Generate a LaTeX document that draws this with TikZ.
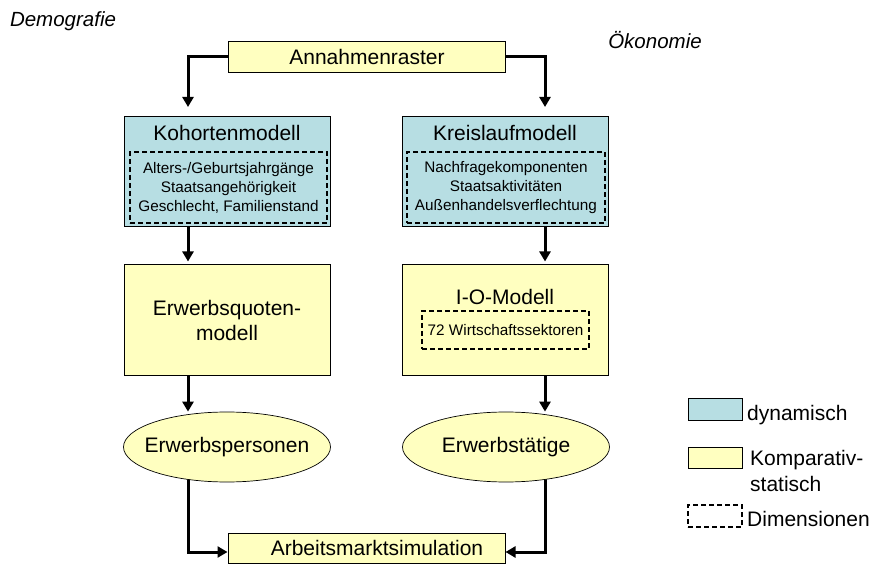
\documentclass[tikz,border=0pt]{standalone}
\usepackage{fontspec}
\setmainfont{Liberation Sans}
\usetikzlibrary{arrows.meta,shapes.geometric,backgrounds}
\definecolor{dyncol}{RGB}{183,222,227}
\definecolor{statcol}{RGB}{255,255,192}
\tikzset{
  big/.style={font=\fontsize{21}{25}\selectfont},
  small/.style={font=\fontsize{15.3}{19}\selectfont},
  head/.style={font=\fontsize{20.5}{24}\selectfont\itshape},
  dynbox/.style={draw,line width=1pt,fill=dyncol,inner sep=0pt},
  statbox/.style={draw,line width=1pt,fill=statcol,inner sep=0pt},
  dimbox/.style={draw,dash pattern=on 5pt off 3pt,line width=1.6pt,inner sep=0pt,align=center},
  arr/.style={line width=3pt,-{Triangle[length=10pt,width=11pt]}}
}
\begin{document}
\begin{tikzpicture}[x=1pt,y=-1pt]
    \useasboundingbox (0,0) rectangle (871,577);
    \node[head] (demo) at (63,21) {Demografie};
    \node[head] (oeko) at (655,40) {Ökonomie};
    \node[statbox,big,minimum width=277pt,minimum height=31pt] (annahmen) at (367,57) {Annahmenraster};
    % dynamische Modelle
    \foreach \x/\n/\l in {227/kohorte/Kohortenmodell,505/kreis/Kreislaufmodell}{
        \node[dynbox,minimum width=206pt,minimum height=110pt] (\n) at (\x,172) {};
        \node[big] (\n-titel) at (\x,133) {\l};
    }
    \node[dimbox,small,minimum width=197pt,minimum height=71pt] (kohdim) at (228.5,187.5)
        {Alters-/Geburtsjahrgänge\\Staatsangehörigkeit\\Geschlecht, Familienstand};
    \node[dimbox,small,minimum width=198pt,minimum height=71pt] (kreisdim) at (506,187.5)
        {Nachfragekomponenten\\Staatsaktivitäten\\Außenhandelsverflechtung};
    % komparativ-statische Modelle
    \node[statbox,big,align=center,minimum width=206pt,minimum height=111pt] (quote) at (227,320.5) {Erwerbsquoten-\\modell};
    \node[statbox,minimum width=206pt,minimum height=111pt] (iomod) at (505,320.5) {};
    \node[big] (iomod-titel) at (505,297) {I-O-Modell};
    \node[dimbox,small,minimum width=167pt,minimum height=38pt] (iodim) at (505.5,330) {72 Wirtschaftssektoren};
    \foreach \x/\n/\l in {227/epers/Erwerbspersonen,506/etaet/Erwerbstätige}{
        \node[ellipse,draw,line width=0.7pt,fill=statcol,inner sep=0pt,minimum width=207pt,minimum height=70pt] (\n) at (\x,447) {};
        \node[big] (\n-text) at (\n) {\l};
    }
    \node[statbox,minimum width=277pt,minimum height=30pt] (arbeit) at (366.5,548) {};
    \node[big] (arbeit-text) at (377,548) {Arbeitsmarktsimulation};
    % Verbindungen
    \coordinate (lx) at (188,0);
    \coordinate (rx) at (545,0);
    \coordinate (kohin) at (188,107);
    \coordinate (kreisin) at (545,107);
    \draw[arr] (annahmen.west) -| (kohin);
    \draw[arr] (annahmen.east) -| (kreisin);
    \draw[arr,shorten >=3pt] (kohorte.south -| lx) -- (quote.north -| lx);
    \draw[arr,shorten >=3pt] (kreis.south -| rx) -- (iomod.north -| rx);
    \draw[arr] (quote.south -| lx) -- (epers.north -| lx);
    \draw[arr] (iomod.south -| rx) -- (etaet.north -| rx);
    \begin{scope}[on background layer]
        \draw[arr] (epers.center -| lx) |- ([yshift=-4pt]arbeit.west);
        \draw[arr] (etaet.center -| rx) |- ([yshift=-4pt]arbeit.east);
    \end{scope}
    % Legende
    \node[dynbox,minimum width=54pt,minimum height=22pt] (legdyn) at (715,410) {};
    \node[big,anchor=base west,inner sep=0pt] (legdyn-text) at (747,421) {dynamisch};
    \node[statbox,minimum width=54pt,minimum height=21pt] (legstat) at (715,458.5) {};
    \node[big,anchor=base west,inner sep=0pt] (legstat-text) at (750,465) {Komparativ-};
    \node[big,anchor=base west,inner sep=0pt] (legstat-text2) at (750,491) {statisch};
    \node[dimbox,minimum width=54pt,minimum height=22pt] (legdim) at (715,516) {};
    \node[big,anchor=base west,inner sep=0pt] (legdim-text) at (747,526) {Dimensionen};
\end{tikzpicture}
\end{document}
